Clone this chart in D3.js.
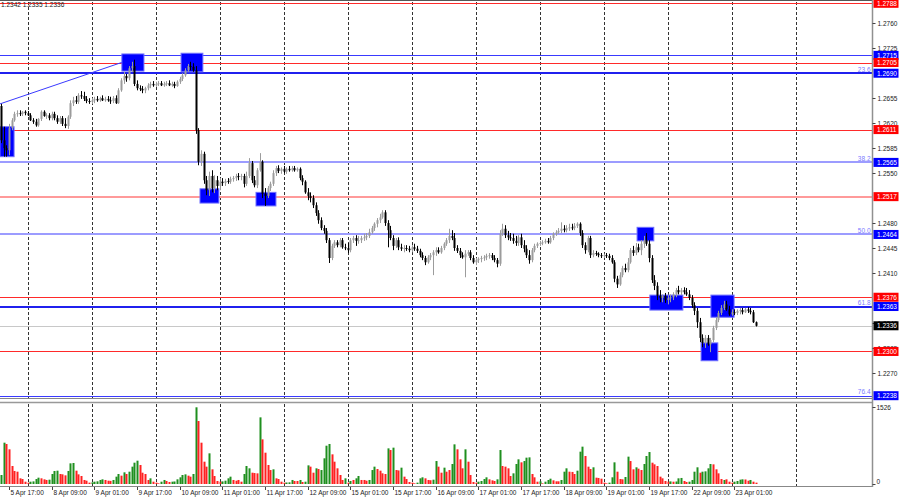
<!DOCTYPE html>
<html><head><meta charset="utf-8">
<script src="https://cdn.jsdelivr.net/npm/d3@7"></script>
<style>body{margin:0;background:#fff;} svg{display:block;font-family:"Liberation Sans",Arial,sans-serif;}</style>
</head><body><svg id="c" width="900" height="500"></svg>
<script>
// ---------- DATA (GBPUSD H1) ----------
const open = [
1.2644,1.2596,1.2585,1.2582,1.2613,1.2624,1.2633,1.2634,1.2633,1.2636,
1.2634,1.2631,1.2624,1.2622,1.2617,1.2626,1.2636,1.2630,1.2631,1.2627,
1.2633,1.2627,1.2622,1.2627,1.2619,1.2616,1.2629,1.2648,1.2652,1.2650,
1.2659,1.2658,1.2654,1.2651,1.2650,1.2652,1.2654,1.2652,1.2655,1.2652,
1.2654,1.2652,1.2651,1.2655,1.2648,1.2666,1.2680,1.2686,1.2683,1.2697,
1.2700,1.2675,1.2669,1.2668,1.2666,1.2669,1.2673,1.2675,1.2673,1.2675,
1.2676,1.2673,1.2675,1.2676,1.2673,1.2675,1.2672,1.2678,1.2682,1.2687,
1.2694,1.2700,1.2699,1.2694,1.2610,1.2566,1.2577,1.2540,1.2526,1.2546,
1.2529,1.2540,1.2532,1.2538,1.2536,1.2539,1.2538,1.2542,1.2543,1.2546,
1.2545,1.2546,1.2535,1.2546,1.2564,1.2540,1.2533,1.2554,1.2566,1.2521,
1.2518,1.2529,1.2535,1.2550,1.2557,1.2553,1.2556,1.2552,1.2556,1.2554,
1.2557,1.2554,1.2556,1.2543,1.2538,1.2523,1.2518,1.2515,1.2505,1.2494,
1.2484,1.2473,1.2469,1.2456,1.2431,1.2448,1.2453,1.2449,1.2456,1.2446,
1.2445,1.2442,1.2456,1.2459,1.2455,1.2456,1.2459,1.2460,1.2462,1.2467,
1.2473,1.2479,1.2484,1.2488,1.2495,1.2480,1.2470,1.2459,1.2448,1.2456,
1.2446,1.2444,1.2445,1.2444,1.2442,1.2446,1.2444,1.2441,1.2435,1.2431,
1.2425,1.2432,1.2435,1.2439,1.2442,1.2439,1.2445,1.2451,1.2456,1.2462,
1.2459,1.2445,1.2441,1.2435,1.2432,1.2437,1.2439,1.2431,1.2425,1.2428,
1.2430,1.2431,1.2432,1.2434,1.2435,1.2431,1.2428,1.2423,1.2465,1.2472,
1.2463,1.2460,1.2459,1.2455,1.2452,1.2460,1.2449,1.2444,1.2435,1.2428,
1.2442,1.2448,1.2451,1.2452,1.2453,1.2455,1.2453,1.2459,1.2465,1.2467,
1.2469,1.2472,1.2470,1.2473,1.2474,1.2473,1.2476,1.2479,1.2466,1.2449,
1.2442,1.2459,1.2435,1.2438,1.2437,1.2435,1.2434,1.2435,1.2434,1.2431,
1.2425,1.2402,1.2394,1.2407,1.2417,1.2414,1.2425,1.2442,1.2438,1.2446,
1.2442,1.2451,1.2456,1.2451,1.2431,1.2400,1.2392,1.2378,1.2375,1.2378,
1.2372,1.2375,1.2376,1.2380,1.2386,1.2383,1.2386,1.2383,1.2380,1.2375,
1.2365,1.2357,1.2341,1.2319,1.2312,1.2319,1.2310,1.2316,1.2333,1.2344,
1.2354,1.2361,1.2366,1.2359,1.2352,1.2355,1.2354,1.2357,1.2358,1.2355,
1.2359,1.2357,1.2355,1.2341];
const high = [
1.2647,1.2615,1.2589,1.2619,1.2627,1.2636,1.2638,1.2638,1.2637,1.2638,
1.2637,1.2634,1.2627,1.2626,1.2627,1.2638,1.2638,1.2634,1.2634,1.2636,
1.2636,1.2631,1.2630,1.2630,1.2627,1.2631,1.2652,1.2657,1.2658,1.2662,
1.2665,1.2664,1.2658,1.2655,1.2655,1.2657,1.2658,1.2657,1.2659,1.2657,
1.2658,1.2657,1.2658,1.2659,1.2669,1.2683,1.2692,1.2689,1.2700,1.2706,
1.2709,1.2680,1.2673,1.2672,1.2671,1.2676,1.2678,1.2679,1.2678,1.2679,
1.2679,1.2678,1.2679,1.2680,1.2678,1.2678,1.2680,1.2685,1.2690,1.2697,
1.2703,1.2706,1.2704,1.2700,1.2613,1.2582,1.2580,1.2546,1.2552,1.2554,
1.2547,1.2546,1.2543,1.2543,1.2542,1.2543,1.2545,1.2546,1.2549,1.2550,
1.2549,1.2549,1.2552,1.2571,1.2567,1.2546,1.2557,1.2578,1.2568,1.2529,
1.2532,1.2538,1.2554,1.2560,1.2561,1.2558,1.2560,1.2558,1.2560,1.2560,
1.2560,1.2558,1.2558,1.2547,1.2540,1.2529,1.2523,1.2519,1.2509,1.2498,
1.2488,1.2477,1.2473,1.2459,1.2451,1.2456,1.2456,1.2459,1.2459,1.2451,
1.2452,1.2459,1.2462,1.2463,1.2462,1.2462,1.2465,1.2466,1.2472,1.2476,
1.2481,1.2487,1.2493,1.2498,1.2498,1.2484,1.2476,1.2463,1.2459,1.2460,
1.2451,1.2449,1.2449,1.2448,1.2449,1.2451,1.2448,1.2444,1.2439,1.2434,
1.2435,1.2438,1.2442,1.2446,1.2446,1.2448,1.2453,1.2459,1.2472,1.2470,
1.2466,1.2449,1.2445,1.2439,1.2442,1.2442,1.2442,1.2435,1.2431,1.2432,
1.2434,1.2435,1.2437,1.2438,1.2438,1.2435,1.2431,1.2470,1.2479,1.2477,
1.2469,1.2466,1.2465,1.2462,1.2463,1.2465,1.2456,1.2449,1.2442,1.2445,
1.2451,1.2453,1.2455,1.2456,1.2458,1.2459,1.2462,1.2467,1.2470,1.2473,
1.2481,1.2477,1.2477,1.2479,1.2479,1.2480,1.2481,1.2481,1.2470,1.2453,
1.2462,1.2462,1.2442,1.2441,1.2439,1.2438,1.2437,1.2438,1.2437,1.2435,
1.2428,1.2406,1.2411,1.2420,1.2423,1.2431,1.2445,1.2448,1.2452,1.2451,
1.2456,1.2462,1.2466,1.2456,1.2435,1.2407,1.2397,1.2386,1.2380,1.2382,
1.2379,1.2380,1.2383,1.2389,1.2392,1.2389,1.2390,1.2389,1.2386,1.2379,
1.2369,1.2361,1.2347,1.2324,1.2323,1.2323,1.2319,1.2336,1.2348,1.2357,
1.2365,1.2371,1.2371,1.2364,1.2359,1.2359,1.2359,1.2361,1.2361,1.2361,
1.2362,1.2361,1.2358,1.2342];
const low = [
1.2592,1.2573,1.2573,1.2575,1.2610,1.2622,1.2629,1.2630,1.2630,1.2631,
1.2630,1.2623,1.2619,1.2615,1.2615,1.2623,1.2629,1.2626,1.2624,1.2624,
1.2624,1.2619,1.2619,1.2616,1.2613,1.2612,1.2626,1.2644,1.2647,1.2647,
1.2654,1.2651,1.2648,1.2647,1.2647,1.2648,1.2650,1.2650,1.2651,1.2650,
1.2650,1.2647,1.2648,1.2647,1.2647,1.2664,1.2675,1.2678,1.2680,1.2692,
1.2672,1.2666,1.2665,1.2662,1.2662,1.2666,1.2669,1.2671,1.2671,1.2672,
1.2672,1.2671,1.2672,1.2672,1.2671,1.2669,1.2671,1.2675,1.2679,1.2685,
1.2692,1.2694,1.2692,1.2605,1.2561,1.2560,1.2535,1.2519,1.2518,1.2523,
1.2522,1.2526,1.2526,1.2532,1.2532,1.2535,1.2535,1.2538,1.2539,1.2540,
1.2540,1.2530,1.2532,1.2543,1.2536,1.2530,1.2529,1.2552,1.2515,1.2504,
1.2515,1.2525,1.2532,1.2546,1.2550,1.2549,1.2550,1.2549,1.2552,1.2552,
1.2552,1.2552,1.2540,1.2533,1.2521,1.2512,1.2509,1.2501,1.2490,1.2479,
1.2470,1.2465,1.2452,1.2424,1.2428,1.2445,1.2446,1.2446,1.2444,1.2442,
1.2438,1.2439,1.2452,1.2448,1.2451,1.2452,1.2455,1.2456,1.2459,1.2465,
1.2469,1.2474,1.2480,1.2486,1.2476,1.2446,1.2456,1.2442,1.2445,1.2442,
1.2441,1.2439,1.2441,1.2439,1.2439,1.2441,1.2438,1.2432,1.2428,1.2421,
1.2423,1.2428,1.2407,1.2434,1.2437,1.2437,1.2442,1.2448,1.2452,1.2456,
1.2441,1.2438,1.2431,1.2430,1.2404,1.2434,1.2428,1.2423,1.2421,1.2424,
1.2425,1.2427,1.2428,1.2430,1.2428,1.2425,1.2418,1.2420,1.2462,1.2459,
1.2456,1.2455,1.2451,1.2448,1.2448,1.2445,1.2439,1.2431,1.2423,1.2425,
1.2439,1.2445,1.2448,1.2449,1.2451,1.2451,1.2451,1.2456,1.2462,1.2465,
1.2466,1.2467,1.2467,1.2469,1.2470,1.2470,1.2473,1.2462,1.2445,1.2437,
1.2439,1.2431,1.2432,1.2434,1.2432,1.2431,1.2431,1.2431,1.2428,1.2423,
1.2397,1.2389,1.2392,1.2404,1.2411,1.2411,1.2423,1.2434,1.2435,1.2439,
1.2435,1.2445,1.2448,1.2425,1.2396,1.2386,1.2372,1.2369,1.2369,1.2368,
1.2366,1.2369,1.2372,1.2376,1.2380,1.2379,1.2380,1.2378,1.2372,1.2361,
1.2351,1.2333,1.2313,1.2306,1.2305,1.2308,1.2299,1.2313,1.2330,1.2341,
1.2351,1.2358,1.2357,1.2350,1.2350,1.2351,1.2351,1.2352,1.2352,1.2354,
1.2354,1.2352,1.2340,1.2335];
const close = [
1.2596,1.2585,1.2582,1.2613,1.2624,1.2633,1.2634,1.2633,1.2636,1.2634,
1.2631,1.2624,1.2622,1.2617,1.2626,1.2636,1.2630,1.2631,1.2627,1.2633,
1.2627,1.2622,1.2627,1.2619,1.2616,1.2629,1.2648,1.2652,1.2650,1.2659,
1.2658,1.2654,1.2651,1.2650,1.2652,1.2654,1.2652,1.2655,1.2652,1.2654,
1.2652,1.2651,1.2655,1.2648,1.2666,1.2680,1.2686,1.2683,1.2697,1.2700,
1.2675,1.2669,1.2668,1.2666,1.2669,1.2673,1.2675,1.2673,1.2675,1.2676,
1.2673,1.2675,1.2676,1.2673,1.2675,1.2672,1.2678,1.2682,1.2687,1.2694,
1.2700,1.2699,1.2694,1.2610,1.2566,1.2577,1.2540,1.2526,1.2546,1.2529,
1.2540,1.2532,1.2538,1.2536,1.2539,1.2538,1.2542,1.2543,1.2546,1.2545,
1.2546,1.2535,1.2546,1.2564,1.2540,1.2533,1.2554,1.2566,1.2521,1.2518,
1.2529,1.2535,1.2550,1.2557,1.2553,1.2556,1.2552,1.2556,1.2554,1.2557,
1.2554,1.2556,1.2543,1.2538,1.2523,1.2518,1.2515,1.2505,1.2494,1.2484,
1.2473,1.2469,1.2456,1.2431,1.2448,1.2453,1.2449,1.2456,1.2446,1.2445,
1.2442,1.2456,1.2459,1.2455,1.2456,1.2459,1.2460,1.2462,1.2467,1.2473,
1.2479,1.2484,1.2488,1.2495,1.2480,1.2470,1.2459,1.2448,1.2456,1.2446,
1.2444,1.2445,1.2444,1.2442,1.2446,1.2444,1.2441,1.2435,1.2431,1.2425,
1.2432,1.2435,1.2439,1.2442,1.2439,1.2445,1.2451,1.2456,1.2462,1.2459,
1.2445,1.2441,1.2435,1.2432,1.2437,1.2439,1.2431,1.2425,1.2428,1.2430,
1.2431,1.2432,1.2434,1.2435,1.2431,1.2428,1.2423,1.2465,1.2472,1.2463,
1.2460,1.2459,1.2455,1.2452,1.2460,1.2449,1.2444,1.2435,1.2428,1.2442,
1.2448,1.2451,1.2452,1.2453,1.2455,1.2453,1.2459,1.2465,1.2467,1.2469,
1.2472,1.2470,1.2473,1.2474,1.2473,1.2476,1.2479,1.2466,1.2449,1.2442,
1.2459,1.2435,1.2438,1.2437,1.2435,1.2434,1.2435,1.2434,1.2431,1.2425,
1.2402,1.2394,1.2407,1.2417,1.2414,1.2425,1.2442,1.2438,1.2446,1.2442,
1.2451,1.2456,1.2451,1.2431,1.2400,1.2392,1.2378,1.2375,1.2378,1.2372,
1.2375,1.2376,1.2380,1.2386,1.2383,1.2386,1.2383,1.2380,1.2375,1.2365,
1.2357,1.2341,1.2319,1.2312,1.2319,1.2310,1.2316,1.2333,1.2344,1.2354,
1.2361,1.2366,1.2359,1.2352,1.2355,1.2354,1.2357,1.2358,1.2355,1.2359,
1.2357,1.2355,1.2341,1.2336];
const volume = [
179,822,796,690,358,259,245,113,99,46,
27,46,52,99,126,113,93,80,86,199,
259,265,199,192,172,259,411,418,265,192,
159,80,66,27,33,46,53,80,93,80,
66,62,80,146,199,166,232,199,245,345,
424,464,378,225,199,80,113,46,27,13,
46,80,60,40,46,50,93,133,179,192,
166,146,199,1526,1253,822,444,345,610,292,
159,60,46,52,66,113,146,80,66,80,
46,199,358,312,225,218,212,1326,888,623,
378,278,292,113,99,46,27,30,33,80,
60,60,80,40,46,371,345,225,312,298,
278,511,762,796,590,444,312,179,80,113,
27,60,80,113,159,80,80,66,80,278,
345,298,265,212,199,709,676,723,278,270,
325,146,99,40,27,13,27,113,133,113,
80,75,86,457,345,225,325,245,278,398,
789,690,491,312,690,444,179,40,27,46,
60,99,133,93,73,60,93,676,358,345,
312,159,212,398,491,431,457,524,530,199,
133,46,52,13,46,80,106,73,53,53,
80,245,312,245,240,199,265,643,743,557,
345,298,332,126,120,106,27,13,27,133,
431,245,99,93,139,544,457,292,332,305,
278,398,557,636,424,391,358,146,113,60,
46,52,46,50,113,120,60,40,46,80,
245,332,225,245,252,312,398,391,292,212,
99,80,93,46,27,46,60,86,93,90,
66,80,46,27];
// volume indicator direction per bar as drawn: G = up, R = down
const volumeDir =
"GGRRRRRRRR"+"RGGGGRRRGG"+"GGRRRGGGRR"+"RRRRGGGGGR"+"RRGGGRGRGG"+
"GGRRRRGRRR"+"GGRRGGGGGG"+"RRGGRRRRGR"+"RRRGGGGRRR"+"RGGGRRRGRR"+
"RRGRRRRGGG"+"RRGRGGRRGR"+"GGGGRRRRRG"+"RGRGGRRRGG"+"GRRRRGRGRR"+
"GRRRRRGGGR"+"RRGGRRGRRG"+"GRRRGRRRRG"+"GGGRRRGGRR"+"RRGGGRGGGR"+
"RRGRGGGRRR"+"GGGRRRGGGR"+"RRGRRRRRGG"+"GRRRGGRRGR"+"RGGGRRRRRR"+
"RGRGGGRRGG"+"GGRGGGGRRR"+"RGRRRGGGGR"+"RGRR";
const firstBarTime = "2024-04-05T14:00:00Z";
const timeLabels = ["5 Apr 17:00","8 Apr 09:00","9 Apr 01:00","9 Apr 17:00","10 Apr 09:00",
 "11 Apr 01:00","11 Apr 17:00","12 Apr 09:00","15 Apr 01:00","15 Apr 17:00","16 Apr 09:00",
 "17 Apr 01:00","17 Apr 17:00","18 Apr 09:00","19 Apr 01:00","19 Apr 17:00","22 Apr 09:00","23 Apr 01:00"];
const priceTicks = [1.2270,1.2305,1.2340,1.2410,1.2445,1.2480,1.2550,1.2585,1.2620,1.2655,1.2725,1.2760];
const levelPrices = [1.2788,1.2715,1.2705,1.2690,1.2611,1.2565,1.2517,1.2464,1.2376,1.2363,1.2300,1.2238];
const levelKinds  = ["res","line","res","fib","res","fibLight","resLight","fibLight","res","fib","res","fibThin"];
const levelFib    = ["","","","23.6","","38.2","","50.0","","61.8","","76.4"];
const currentPrice = 1.2336;
const volumeMax = 1526;
// zones: first bar, last bar, upper price, lower price
const zoneBar0  = [0, 45.7, 67.9, 75, 96, 238.9, 243.7, 266.6, 262.9];
const zoneBar1  = [4.9, 53.6, 75.7, 81.7, 103.1, 244.8, 255.7, 274.9, 268.8];
const zoneTop   = [1.2615,1.2717,1.2718,1.2528,1.2523,1.2474,1.2379,1.2379,1.2312];
const zoneBot   = [1.2573,1.2693,1.2692,1.2508,1.2504,1.2455,1.2358,1.2348,1.2287];
const trendBars = [0, 46];
const trendPrices = [1.2647, 1.2706];

// ---------- LAYOUT ----------
const svg = d3.select("#c");
const axisX = 872.5;
const x = d3.scaleLinear().domain([0, 100]).range([1, 267.67]);
const y = d3.scaleLinear().domain([1.2238, 1.2788]).range([395.7, 3.3]);
const yv = d3.scaleLinear().domain([0, volumeMax]).range([484, 407.3]);
const n = close.length;

const t0 = new Date(firstBarTime).getTime();
const times = [];
for (let t = t0; times.length < 305; t += 3600e3) {
  const d = new Date(t).getUTCDay();
  if (d !== 0 && d !== 6) times.push(new Date(t));
}
const fmt = d3.utcFormat("%-d %b %H:%M");

const defs = svg.append("defs");
defs.append("clipPath").attr("id","plot").append("rect")
  .attr("x",0).attr("y",0).attr("width",axisX).attr("height",398);
defs.append("clipPath").attr("id","vplot").append("rect")
  .attr("x",0).attr("y",403).attr("width",axisX).attr("height",83);

// grid (day separators)
const gridG = svg.append("g");
times.forEach((t,i)=>{
  if (t.getUTCHours()===0 && i>0) {
    const gx = Math.round(x(i)) + 0.5;
    gridG.append("line").attr("x1",gx).attr("x2",gx).attr("y1",2).attr("y2",398)
      .attr("stroke","#333").attr("stroke-width",1).attr("stroke-dasharray","3,2");
    gridG.append("line").attr("x1",gx).attr("x2",gx).attr("y1",404).attr("y2",486)
      .attr("stroke","#333").attr("stroke-width",1).attr("stroke-dasharray","3,2");
  }
});

// levels
const styles = {
  res:{c:"#ff2a2a",w:1}, resLight:{c:"#ff9a9a",w:2}, line:{c:"#3a3aff",w:1},
  fib:{c:"#2020ee",w:2}, fibLight:{c:"#9c9cff",w:2}, fibThin:{c:"#3a3aff",w:1}
};
const lvG = svg.append("g").attr("clip-path","url(#plot)");
levelPrices.forEach((p,i)=>{
  const s = styles[levelKinds[i]];
  const ly = Math.round(y(p)) + (s.w===1?0.5:0);
  lvG.append("line").attr("x1",0).attr("x2",axisX).attr("y1",ly).attr("y2",ly)
    .attr("stroke",s.c).attr("stroke-width",s.w);
});
lvG.append("line").attr("x1",0).attr("x2",axisX)
  .attr("y1",Math.round(y(currentPrice))+0.5).attr("y2",Math.round(y(currentPrice))+0.5)
  .attr("stroke","#c8c8c8").attr("stroke-width",1);
svg.append("line").attr("x1",0).attr("x2",axisX).attr("y1",0.5).attr("y2",0.5).attr("stroke","#555");

// trend line
lvG.append("line").attr("x1",x(trendBars[0])-1).attr("y1",y(trendPrices[0]))
  .attr("x2",x(trendBars[1])).attr("y2",y(trendPrices[1]))
  .attr("stroke","#3a3aff").attr("stroke-width",1);

// zones
const zG = svg.append("g").attr("clip-path","url(#plot)");
zoneBar0.forEach((b,i)=>{
  const x0 = x(b)-1, x1 = x(zoneBar1[i]);
  zG.append("rect").attr("x",x0).attr("y",y(zoneTop[i])).attr("width",x1-x0)
    .attr("height",y(zoneBot[i])-y(zoneTop[i]))
    .attr("fill","#0000ff").attr("stroke","#6f6fff").attr("stroke-width",1);
});

// candles
const cG = svg.append("g").attr("clip-path","url(#plot)");
for (let i=0;i<n;i++){
  const cx = Math.round(x(i));
  const bull = close[i] >= open[i];
  const col = bull ? "#9c9c9c" : "#000";
  cG.append("line").attr("x1",cx+0.5).attr("x2",cx+0.5)
    .attr("y1",y(high[i])).attr("y2",y(low[i])).attr("stroke",col).attr("stroke-width",1);
  const top = y(Math.max(open[i],close[i])), bot = y(Math.min(open[i],close[i]));
  cG.append("rect").attr("x",cx-0.5).attr("y",top).attr("width",2)
    .attr("height",Math.max(1,bot-top)).attr("fill",col);
}

// fib labels
levelPrices.forEach((p,i)=>{
  if (!levelFib[i]) return;
  svg.append("text").attr("x",axisX-2).attr("y",y(p)-1.5).attr("text-anchor","end")
    .attr("font-size",6.5).attr("fill","#7a7aff").text(levelFib[i]);
});

// volumes
const vG = svg.append("g").attr("clip-path","url(#vplot)");
for (let i=0;i<n;i++){
  const cx = Math.round(x(i));
  vG.append("rect").attr("x",cx-0.5).attr("width",2)
    .attr("y",yv(volume[i])).attr("height",yv(0)-yv(volume[i]))
    .attr("fill", volumeDir[i]==="G" ? "#1f8f1f" : "#ff2020");
}

// frames
svg.append("line").attr("x1",0).attr("x2",axisX).attr("y1",398.5).attr("y2",398.5).attr("stroke","#888");
svg.append("line").attr("x1",0).attr("x2",axisX).attr("y1",402.5).attr("y2",402.5).attr("stroke","#999").attr("stroke-width",1.5);
svg.append("line").attr("x1",0).attr("x2",axisX).attr("y1",486.5).attr("y2",486.5).attr("stroke","#888");
svg.append("line").attr("x1",axisX).attr("x2",axisX).attr("y1",0).attr("y2",487).attr("stroke","#909090").attr("stroke-width",1.5);

// price axis ticks
const axG = svg.append("g").attr("font-size",6.5);
priceTicks.forEach(p=>{
  const ty = Math.round(y(p))+0.5;
  axG.append("line").attr("x1",axisX).attr("x2",axisX+3).attr("y1",ty).attr("y2",ty).attr("stroke","#444");
  axG.append("text").attr("x",axisX+5).attr("y",ty+2.5).attr("fill","#222").text(p.toFixed(4));
});
function boxLabel(p, fill){
  const cy = y(p);
  axG.append("rect").attr("x",axisX+1).attr("y",cy-4.5).attr("width",25).attr("height",9).attr("fill",fill);
  axG.append("text").attr("x",axisX+4.5).attr("y",cy+2.5).attr("fill","#fff").text(p.toFixed(4));
}
levelPrices.forEach((p,i)=>{
  boxLabel(p, levelKinds[i].startsWith("res") ? "#ff0000" : "#0000ff");
});
boxLabel(currentPrice, "#000");

// volume axis
axG.append("text").attr("x",axisX+4).attr("y",410).attr("fill","#222").text(String(volumeMax));
axG.append("text").attr("x",axisX+4).attr("y",484).attr("fill","#222").text("0");
axG.append("line").attr("x1",axisX).attr("x2",axisX+3).attr("y1",407.5).attr("y2",407.5).attr("stroke","#444");
axG.append("line").attr("x1",axisX).attr("x2",axisX+3).attr("y1",484.5).attr("y2",484.5).attr("stroke","#444");

// time axis
const tG = svg.append("g").attr("font-size",6.5).attr("fill","#222");
timeLabels.forEach(lbl=>{
  const i = times.findIndex(t=>fmt(t)===lbl);
  if (i<0) return;
  const tx = Math.round(x(i))+0.5;
  tG.append("line").attr("x1",tx).attr("x2",tx).attr("y1",487).attr("y2",490).attr("stroke","#444");
  tG.append("text").attr("x",tx+1).attr("y",495).text(lbl);
});

// header (last bar values)
svg.append("text").attr("x",1).attr("y",7).attr("font-size",6.5).attr("fill","#222")
  .text(`${high[n-1].toFixed(4)} ${low[n-1].toFixed(4)} ${close[n-1].toFixed(4)}`);
</script></body></html>
